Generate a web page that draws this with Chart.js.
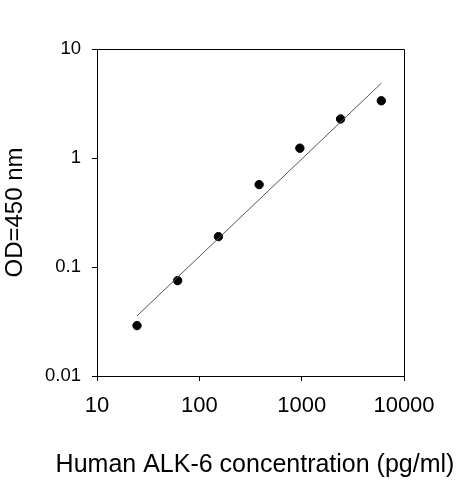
<!DOCTYPE html>
<html>
<head>
<meta charset="utf-8">
<script src="https://cdn.jsdelivr.net/npm/chart.js@4/dist/chart.umd.min.js"></script>
<style>
  html, body { margin: 0; padding: 0; background: #fff; }
  #caja { width: 463px; height: 480px; }
</style>
</head>
<body>
<div id="caja"><canvas id="grafica" width="463" height="480"></canvas></div>
<script>
// Datos de la curva estándar
const concentracion = [24.6, 61.4, 153.6, 384, 960, 2400, 6000];
const densidad = [0.029, 0.075, 0.19, 0.57, 1.23, 2.28, 3.35];

// Recta de ajuste: extremos
const ajusteX = [24.6, 6000];
const ajusteY = [0.0356, 4.85];

const ticksX = [10, 100, 1000, 10000];
const ticksY = [0.01, 0.1, 1, 10];

const tituloX = 'Human ALK-6 concentration (pg/ml)';
const tituloY = 'OD=450 nm';

const fuente = 'Liberation Sans, Arial, sans-serif';

// Marco superior y derecho + título del eje X
// (Chart.js comprime el título al ancho del área, por eso lo pintamos aparte)
const marco = {
    id: 'marco',
    afterDraw(chart) {
        const a = chart.chartArea;
        const ctx = chart.ctx;
        ctx.save();
        ctx.strokeStyle = '#000';
        ctx.lineWidth = 1;
        ctx.beginPath();
        ctx.moveTo(a.left, a.top + 0.5);
        ctx.lineTo(a.right + 0.5, a.top + 0.5);
        ctx.lineTo(a.right + 0.5, a.bottom);
        ctx.stroke();

        ctx.fillStyle = '#000';
        ctx.font = '25px ' + fuente;
        ctx.textAlign = 'center';
        ctx.textBaseline = 'alphabetic';
        ctx.fillText(tituloX, 255, 472);
        ctx.restore();
    }
};

const puntos = concentracion.map((x, i) => ({ x: x, y: densidad[i] }));
const recta = ajusteX.map((x, i) => ({ x: x, y: ajusteY[i] }));

new Chart(document.getElementById('grafica').getContext('2d'), {
    type: 'scatter',
    data: {
        datasets: [
            {
                data: recta,
                showLine: true,
                borderColor: '#555',
                borderWidth: 1,
                pointRadius: 0
            },
            {
                data: puntos,
                backgroundColor: '#000',
                borderColor: '#000',
                pointRadius: 4.2
            }
        ]
    },
    options: {
        responsive: false,
        animation: false,
        layout: { padding: { top: 49, right: 59, left: 0, bottom: 0 } },
        plugins: { legend: { display: false }, tooltip: { enabled: false } },
        scales: {
            x: {
                type: 'logarithmic',
                min: 10,
                max: 10000,
                afterBuildTicks: s => { s.ticks = ticksX.map(v => ({ value: v })); },
                afterFit: s => { s.height = 104; },
                grid: { drawOnChartArea: false, tickLength: 5, color: '#000' },
                border: { color: '#000', width: 1 },
                ticks: {
                    color: '#000',
                    padding: 12,
                    maxRotation: 0,
                    font: { family: fuente, size: 22 },
                    callback: v => String(v)
                },
                title: { display: false }
            },
            y: {
                type: 'logarithmic',
                min: 0.01,
                max: 10,
                afterBuildTicks: s => { s.ticks = ticksY.map(v => ({ value: v })); },
                afterFit: s => { s.width = 97; },
                grid: { drawOnChartArea: false, tickLength: 5, color: '#000' },
                border: { color: '#000', width: 1 },
                ticks: {
                    color: '#000',
                    padding: 11,
                    font: { family: fuente, size: 18.5 },
                    callback: v => String(v)
                },
                title: {
                    display: true,
                    text: tituloY,
                    color: '#000',
                    font: { family: fuente, size: 24 },
                    padding: { top: 1, bottom: 4 }
                }
            }
        }
    },
    plugins: [marco]
});
</script>
</body>
</html>
